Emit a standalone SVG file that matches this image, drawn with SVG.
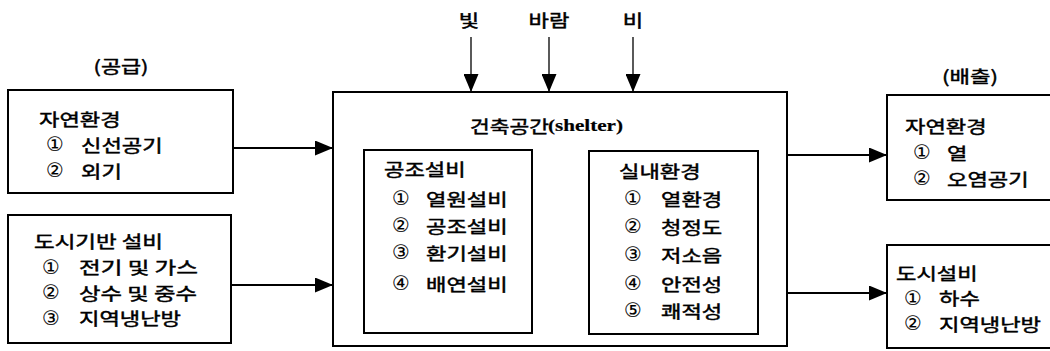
<svg xmlns="http://www.w3.org/2000/svg" width="1050" height="351" viewBox="0 0 1050 351">
<style>
.box{fill:none;stroke:#000;stroke-width:2}
.ln{stroke:#000;stroke-width:1.8;fill:none}
.lt{stroke:#000;stroke-width:1.3;fill:none}
text{font-family:"Noto Sans CJK KR","Noto Sans",sans-serif;font-size:17px;fill:#000;stroke:#000;stroke-width:0.45;dominant-baseline:central}
.n{font-family:"DejaVu Sans","Noto Sans CJK KR",sans-serif;font-size:20px;stroke-width:0.1}
.sf{font-family:"Liberation Serif",serif;font-weight:bold;font-size:17.5px;stroke-width:0.2}
</style>
<defs>
<marker id="ah" markerUnits="userSpaceOnUse" markerWidth="18" markerHeight="15" refX="18" refY="7.5" orient="auto">
<path d="M0,0 L18,7.5 L0,15 Z" fill="#000"/>
</marker>
</defs>
<rect width="1050" height="351" fill="#fff"/>
<g id="labels">
<text x="121" y="65" text-anchor="middle" textLength="55" lengthAdjust="spacingAndGlyphs">(공급)</text>
<text x="970" y="75" text-anchor="middle" textLength="56" lengthAdjust="spacingAndGlyphs">(배출)</text>
<text x="469" y="19" text-anchor="middle" textLength="20.4" lengthAdjust="spacingAndGlyphs">빛</text>
<text x="549" y="19" text-anchor="middle" textLength="40.8" lengthAdjust="spacingAndGlyphs">바람</text>
<text x="633" y="19" text-anchor="middle" textLength="20.4" lengthAdjust="spacingAndGlyphs">비</text>
</g>
<g id="connectors">
<line class="ln" x1="233" y1="148" x2="333" y2="148" marker-end="url(#ah)"/>
<line class="ln" x1="231" y1="285" x2="333" y2="285" marker-end="url(#ah)"/>
<line class="ln" x1="787" y1="155" x2="887" y2="155" marker-end="url(#ah)"/>
<line class="ln" x1="787" y1="293" x2="887" y2="293" marker-end="url(#ah)"/>
<line class="lt" x1="471" y1="37" x2="471" y2="92" marker-end="url(#ah)"/>
<line class="lt" x1="549" y1="37" x2="549" y2="92" marker-end="url(#ah)"/>
<line class="lt" x1="633" y1="37" x2="633" y2="92" marker-end="url(#ah)"/>
</g>
<g id="supply-nature">
<rect class="box" x="8" y="90" width="225" height="103"/>
<text x="39" y="118" textLength="81.6" lengthAdjust="spacingAndGlyphs">자연환경</text>
<text class="n" x="46" y="144">①</text>
<text x="81" y="144" textLength="81.6" lengthAdjust="spacingAndGlyphs">신선공기</text>
<text class="n" x="46" y="170">②</text>
<text x="81" y="170" textLength="40.8" lengthAdjust="spacingAndGlyphs">외기</text>
</g>
<g id="supply-city">
<rect class="box" x="8" y="215" width="223" height="128"/>
<text x="34" y="240" textLength="129" lengthAdjust="spacingAndGlyphs">도시기반 설비</text>
<text class="n" x="42" y="266.5">①</text>
<text x="79" y="266.5" textLength="119" lengthAdjust="spacingAndGlyphs">전기 및 가스</text>
<text class="n" x="42" y="292">②</text>
<text x="79" y="292" textLength="118" lengthAdjust="spacingAndGlyphs">상수 및 중수</text>
<text class="n" x="42" y="317.5">③</text>
<text x="79" y="317.5" textLength="102" lengthAdjust="spacingAndGlyphs">지역냉난방</text>
</g>
<g id="shelter">
<rect class="box" x="333" y="92" width="454" height="254"/>
<text x="470" y="125"><tspan textLength="79" lengthAdjust="spacingAndGlyphs">건축공간</tspan><tspan class="sf" x="548" textLength="75" lengthAdjust="spacingAndGlyphs">(shelter)</tspan></text>
</g>
<g id="hvac">
<rect class="box" x="364" y="150" width="168" height="183"/>
<text x="384" y="168" textLength="81.6" lengthAdjust="spacingAndGlyphs">공조설비</text>
<text class="n" x="392" y="198">①</text>
<text x="426" y="198" textLength="81.6" lengthAdjust="spacingAndGlyphs">열원설비</text>
<text class="n" x="392" y="225">②</text>
<text x="426" y="225" textLength="81.6" lengthAdjust="spacingAndGlyphs">공조설비</text>
<text class="n" x="392" y="252">③</text>
<text x="426" y="252" textLength="81.6" lengthAdjust="spacingAndGlyphs">환기설비</text>
<text class="n" x="392" y="283">④</text>
<text x="426" y="283" textLength="81.6" lengthAdjust="spacingAndGlyphs">배연설비</text>
</g>
<g id="indoor">
<rect class="box" x="589" y="151" width="169" height="183"/>
<text x="619" y="170" textLength="81.6" lengthAdjust="spacingAndGlyphs">실내환경</text>
<text class="n" x="624" y="198">①</text>
<text x="661" y="198" textLength="61.2" lengthAdjust="spacingAndGlyphs">열환경</text>
<text class="n" x="624" y="226">②</text>
<text x="661" y="226" textLength="61.2" lengthAdjust="spacingAndGlyphs">청정도</text>
<text class="n" x="624" y="254">③</text>
<text x="661" y="254" textLength="61.2" lengthAdjust="spacingAndGlyphs">저소음</text>
<text class="n" x="624" y="283">④</text>
<text x="661" y="283" textLength="61.2" lengthAdjust="spacingAndGlyphs">안전성</text>
<text class="n" x="624" y="310">⑤</text>
<text x="661" y="310" textLength="61.2" lengthAdjust="spacingAndGlyphs">쾌적성</text>
</g>
<g id="discharge-nature">
<rect class="box" x="887" y="95" width="170" height="105"/>
<text x="905" y="125" textLength="81.6" lengthAdjust="spacingAndGlyphs">자연환경</text>
<text class="n" x="913" y="152">①</text>
<text x="947" y="152" textLength="20.4" lengthAdjust="spacingAndGlyphs">열</text>
<text class="n" x="913" y="178">②</text>
<text x="947" y="178" textLength="81.6" lengthAdjust="spacingAndGlyphs">오염공기</text>
</g>
<g id="discharge-city">
<rect class="box" x="887" y="245" width="170" height="103"/>
<text x="896" y="272" textLength="81.6" lengthAdjust="spacingAndGlyphs">도시설비</text>
<text class="n" x="904" y="297.5">①</text>
<text x="939" y="297.5" textLength="40.8" lengthAdjust="spacingAndGlyphs">하수</text>
<text class="n" x="904" y="323">②</text>
<text x="939" y="323" textLength="102" lengthAdjust="spacingAndGlyphs">지역냉난방</text>
</g>
</svg>
